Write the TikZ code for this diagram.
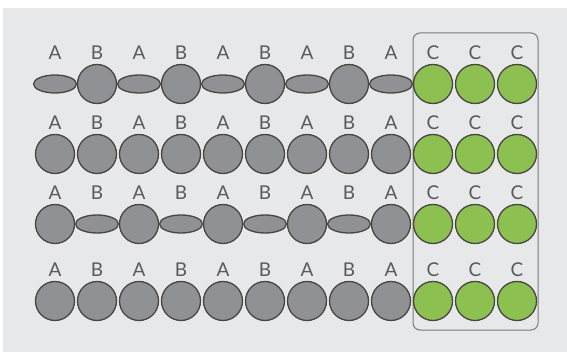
\documentclass[tikz,border=0pt]{standalone}
\usepackage{fontspec}
\setmainfont{Lato}
\usetikzlibrary{shapes.geometric}
\definecolor{bgc}{HTML}{E7E8E9}
\definecolor{grayfill}{HTML}{8F9194}
\definecolor{greenfill}{HTML}{8CC152}
\definecolor{outl}{HTML}{4A4541}
\definecolor{txt}{HTML}{5A5A5A}
\definecolor{framec}{HTML}{7A7A7A}
\tikzset{
  ball/.style={circle, draw=outl, line width=1.3pt, inner sep=0pt, minimum size=39pt},
  flat/.style={ellipse, draw=outl, line width=1.3pt, inner sep=0pt, minimum width=43pt, minimum height=18pt},
  grayball/.style={ball, fill=grayfill},
  grayflat/.style={flat, fill=grayfill},
  greenball/.style={ball, fill=greenfill},
  lbl/.style={text=txt, font=\fontsize{19}{19}\selectfont, inner sep=0pt},
  framebox/.style={draw=framec, line width=1pt, rounded corners=7pt, minimum width=125pt, minimum height=297pt, inner sep=0pt}
}
\begin{document}
\begin{tikzpicture}[x=1pt,y=-1pt]
\useasboundingbox (0,0) rectangle (567,352);
\fill[bgc] (3,8) rectangle (567,352);
\node[framebox] (frame) at (475.5,181.5) {};
\foreach \r/\y/\kind in {1/84/a, 2/154/n, 3/224/b, 4/301/n}{
  \foreach \c in {1,...,12}{
    \pgfmathsetmacro{\x}{55+42*(\c-1)}
    \pgfmathtruncatemacro{\odd}{mod(\c,2)}
    \ifnum\c>9
      \node[greenball] (s\r-\c) at (\x,\y) {};
      \node[lbl] (l\r-\c) at (\x,\y-31) {C};
    \else
      \ifnum\odd=1
        \def\lab{A}
      \else
        \def\lab{B}
      \fi
      \def\sty{grayball}
      \if\kind a\ifnum\odd=1 \def\sty{grayflat}\fi\fi
      \if\kind b\ifnum\odd=0 \def\sty{grayflat}\fi\fi
      \node[\sty] (s\r-\c) at (\x,\y) {};
      \node[lbl] (l\r-\c) at (\x,\y-31) {\lab};
    \fi
  }
}
\end{tikzpicture}
\end{document}
